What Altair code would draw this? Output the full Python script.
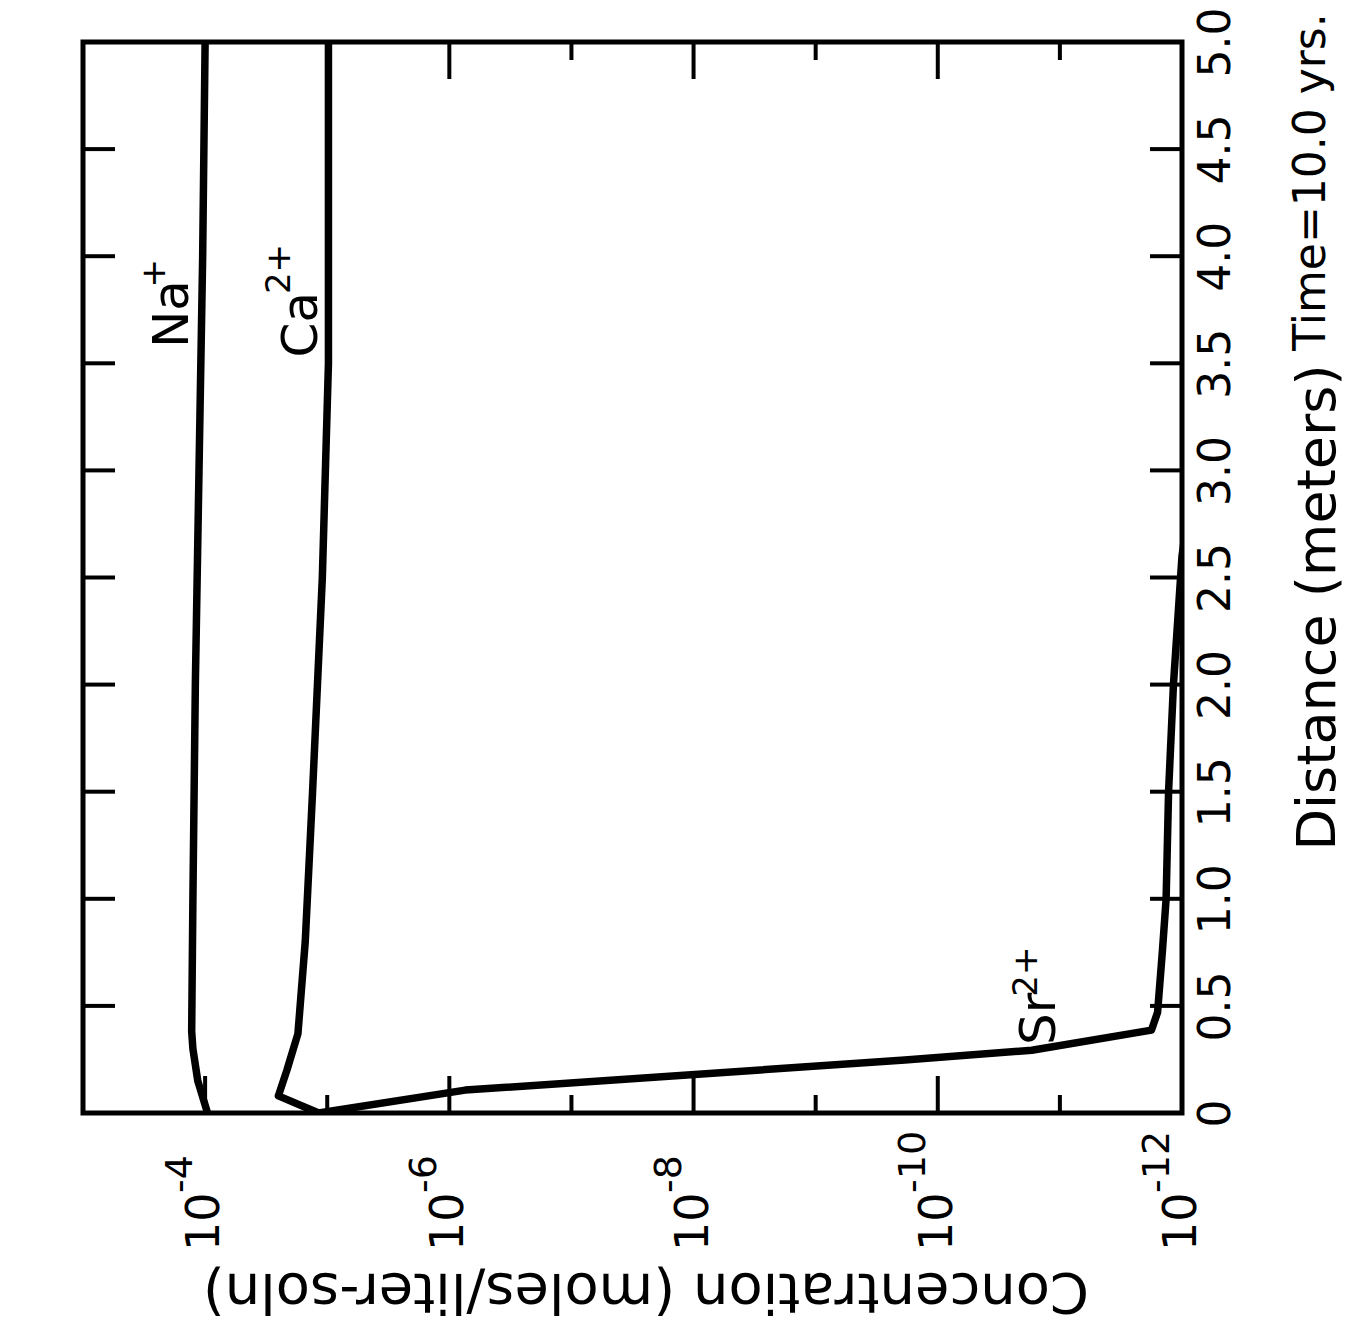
import altair as alt
import pandas as pd

# Distance from the source (m) and log10 concentration (moles/liter-soln), t = 10 yrs
na_dist = [0.0, 0.15, 0.30, 0.38, 1.0, 2.0, 3.0, 4.0, 5.0]
na_logc = [-4.02, -3.94, -3.90, -3.89, -3.90, -3.92, -3.95, -3.98, -4.00]

ca_dist = [0.0, 0.08, 0.20, 0.37, 0.8, 1.5, 2.5, 3.5, 5.0]
ca_logc = [-4.93, -4.60, -4.67, -4.76, -4.82, -4.88, -4.96, -5.01, -5.01]

sr_dist = [0.0, 0.107, 0.247, 0.293, 0.387, 0.47, 0.76, 1.0, 1.5, 2.0, 2.6, 3.0]
sr_logc = [-4.93, -6.13, -9.73, -10.77, -11.75, -11.80, -11.84, -11.87, -11.89, -11.93, -12.0, -12.1]

# Concentration axis: labelled decades, drawn as base "10" plus exponent
conc_labelled = [1e-4, 1e-6, 1e-8, 1e-10, 1e-12]
conc_exponent_text = ["-4", "-6", "-8", "-10", "-12"]
conc_major = [1e-4, 1e-6, 1e-8, 1e-10]
conc_minor = [1e-5, 1e-7, 1e-9, 1e-11]

# Distance axis
dist_values = [0, 0.5, 1.0, 1.5, 2.0, 2.5, 3.0, 3.5, 4.0, 4.5, 5.0]
dist_ticks = [0.5, 1.0, 1.5, 2.0, 2.5, 3.0, 3.5, 4.0, 4.5]

# Ion labels: base text and superscript, placed in data units
ion_text = ["Na", "Ca", "Sr"]
ion_logc = [-3.74, -4.79, -10.84]
ion_dist = [3.73, 3.68, 0.44]
sup_text = ["+", "2+", "2+"]
sup_logc = [-3.59, -4.61, -10.73]
sup_dist = [3.92, 3.94, 0.66]

W, H = 1099, 1071
FONT = "DejaVu Sans"

rows = []
for name, ds, ls in (("Na+", na_dist, na_logc), ("Ca2+", ca_dist, ca_logc), ("Sr2+", sr_dist, sr_logc)):
    for d, l in zip(ds, ls):
        rows.append({"ion": name, "distance": d, "conc": 10 ** l})
lines_df = pd.DataFrame(rows)

xscale = alt.Scale(type="log", domain=[1e-12, 1e-3], reverse=True, nice=False)
yscale = alt.Scale(domain=[0, 5], nice=False, zero=False)

x_axis = alt.Axis(
    values=conc_labelled,
    labels=False,
    ticks=False,
    domain=False,
    grid=False,
    title="Concentration (moles/liter-soln)",
    titleAngle=180,
    titleFont=FONT,
    titleFontSize=56,
    titleFontWeight="normal",
    titleColor="black",
    titleAlign="center",
    titleBaseline="middle",
    titleX=W / 2 + 13,
    titleY=177,
)

y_axis = alt.Axis(
    orient="right",
    values=dist_values,
    labelExpr="datum.value == 0 ? '0' : format(datum.value, '.1f')",
    labelAngle=270,
    labelFontSize=44,
    labelFont=FONT,
    labelColor="black",
    labelPadding=12,
    labelFlush=False,
    labelOverlap=False,
    ticks=False,
    domain=False,
    grid=False,
    title="Distance (meters)",
    titleAngle=270,
    titleFont=FONT,
    titleFontSize=54,
    titleFontWeight="normal",
    titleColor="black",
    titleAlign="center",
    titleBaseline="middle",
    titleX=136,
    titleY=565,
)

lines = alt.Chart(lines_df).mark_line(
    color="black", strokeWidth=7.5, strokeJoin="round", strokeCap="round", clip=True
).encode(
    x=alt.X("conc:Q", scale=xscale, axis=x_axis),
    y=alt.Y("distance:Q", scale=yscale, axis=y_axis),
    detail="ion:N",
    order="distance:Q",
)

def conc_ticks(values, y0, y1):
    return alt.Chart(pd.DataFrame({"conc": values})).mark_rule(
        color="black", strokeWidth=4
    ).encode(
        x=alt.X("conc:Q", scale=xscale),
        y=alt.value(y0),
        y2=alt.value(y1),
    )

def dist_ticks_at(x0, x1):
    return alt.Chart(pd.DataFrame({"distance": dist_ticks})).mark_rule(
        color="black", strokeWidth=4
    ).encode(
        y=alt.Y("distance:Q", scale=yscale),
        x=alt.value(x0),
        x2=alt.value(x1),
    )

tick_layers = [
    conc_ticks(conc_major, H, H - 37),
    conc_ticks(conc_minor, H, H - 18),
    conc_ticks(conc_major, 0, 37),
    conc_ticks(conc_minor, 0, 18),
    dist_ticks_at(0, 32),
    dist_ticks_at(W, W - 32),
]

# Concentration tick labels: "10" with a raised exponent (rotated with the page)
conc_lab_df = pd.DataFrame({"conc": conc_labelled, "exp": conc_exponent_text, "base": ["10"] * len(conc_labelled)})

conc_base = alt.Chart(conc_lab_df).mark_text(
    angle=270, fontSize=46, font=FONT, color="black", align="left", baseline="middle"
).encode(
    x=alt.X("conc:Q", scale=xscale),
    y=alt.value(H + 138),
    text="base:N",
)

conc_exp = alt.Chart(conc_lab_df).mark_text(
    angle=270, fontSize=38, font=FONT, color="black", align="left", baseline="middle",
    xOffset=-24,
).encode(
    x=alt.X("conc:Q", scale=xscale),
    y=alt.value(H + 80),
    text="exp:N",
)

ion_df = pd.DataFrame({"text": ion_text, "conc": [10 ** v for v in ion_logc], "distance": ion_dist})
sup_df = pd.DataFrame({"text": sup_text, "conc": [10 ** v for v in sup_logc], "distance": sup_dist})

ion_labels = alt.Chart(ion_df).mark_text(
    angle=270, fontSize=50, font=FONT, color="black", align="center", baseline="middle"
).encode(
    x=alt.X("conc:Q", scale=xscale),
    y=alt.Y("distance:Q", scale=yscale),
    text="text:N",
)

sup_labels = alt.Chart(sup_df).mark_text(
    angle=270, fontSize=34, font=FONT, color="black", align="center", baseline="middle"
).encode(
    x=alt.X("conc:Q", scale=xscale),
    y=alt.Y("distance:Q", scale=yscale),
    text="text:N",
)

time_label = alt.Chart(pd.DataFrame({"text": ["Time=10.0 yrs."]})).mark_text(
    angle=270, fontSize=44, font=FONT, color="black", align="center", baseline="middle"
).encode(
    x=alt.value(1229),
    y=alt.value(140),
    text="text:N",
)

chart = alt.layer(
    lines, *tick_layers, conc_base, conc_exp, ion_labels, sup_labels, time_label
).properties(
    width=W,
    height=H,
    autosize=alt.AutoSizeParams(type="none"),
    padding={"left": 83, "top": 42, "right": 1351 - 83 - W, "bottom": 1331 - 42 - H},
    background="white",
).configure_view(
    stroke="black", strokeWidth=5
)

chart.save("out.html", embed_options={"renderer": "svg", "actions": False})
